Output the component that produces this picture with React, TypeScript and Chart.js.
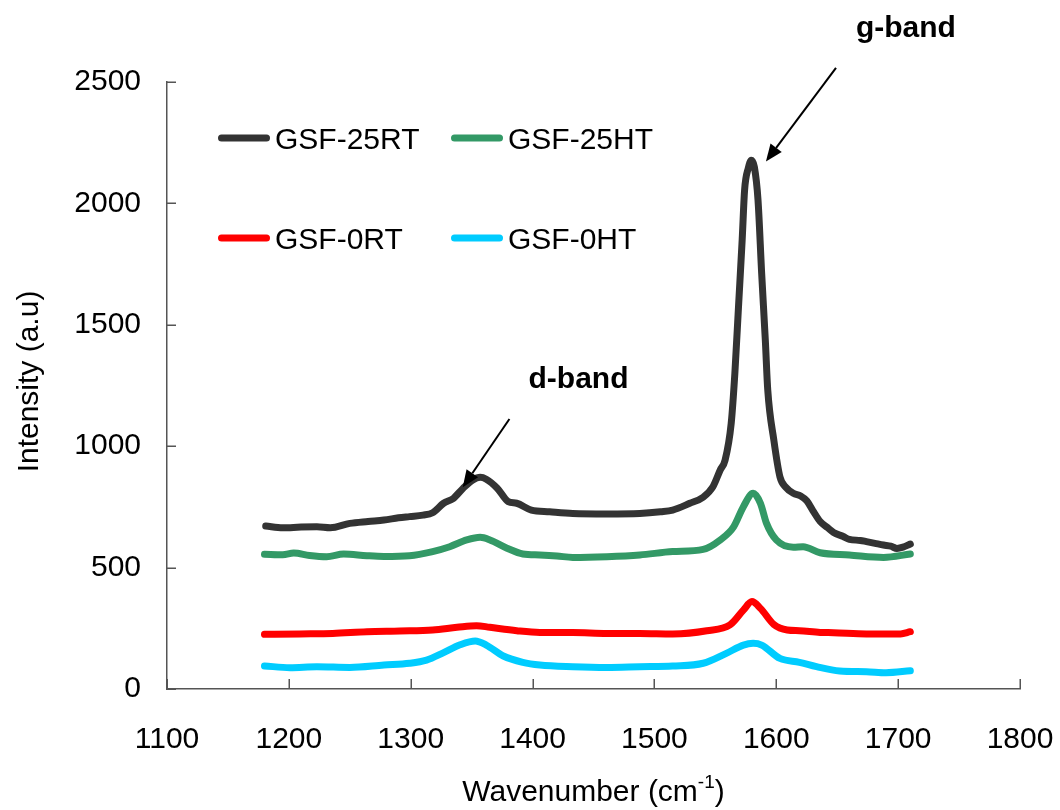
import React, { useEffect, useRef } from "react";
import { Chart, registerables } from "chart.js";

Chart.register(...registerables);

// Axis ticks
const xTickValues = [1100, 1200, 1300, 1400, 1500, 1600, 1700, 1800];
const yTickValues = [0, 500, 1000, 1500, 2000, 2500];

// Series labels and colours
const seriesLabels = ["GSF-25RT", "GSF-25HT", "GSF-0RT", "GSF-0HT"];
const seriesColors = ["#333333", "#339966", "#FF0000", "#00CCFF"];

// GSF-25RT
const rt25X = [1181, 1195, 1210, 1223, 1234, 1250, 1265, 1278, 1290, 1299, 1310, 1318, 1327, 1335, 1343, 1351, 1357, 1362, 1371, 1380, 1387, 1399, 1414, 1433, 1461, 1488, 1505, 1515, 1529, 1540, 1548, 1554, 1558, 1563, 1566, 1569, 1572, 1574, 1577, 1579.5, 1582, 1585, 1588, 1591, 1593, 1598, 1603, 1608, 1614, 1620, 1625, 1630, 1636, 1642, 1647, 1655, 1660, 1669, 1674, 1681, 1688, 1694, 1699, 1704, 1710];
const rt25Y = [671, 664, 667, 668, 664, 682, 690, 696, 705, 710, 716, 726, 765, 785, 827, 861, 872, 864, 827, 772, 765, 737, 730, 723, 721, 723, 730, 737, 765, 790, 833, 902, 943, 1094, 1300, 1575, 1849, 2055, 2145, 2178, 2150, 2014, 1712, 1437, 1231, 1025, 874, 830, 806, 795, 775, 735, 690, 665, 645, 628, 616, 612, 607, 600, 593, 588, 579, 584, 597];

// GSF-25HT
const ht25X = [1180, 1195, 1204, 1217, 1231, 1245, 1264, 1278, 1299, 1318, 1332, 1346, 1357, 1365, 1379, 1392, 1406, 1420, 1433, 1461, 1488, 1515, 1540, 1554, 1565, 1573, 1581, 1587, 1592, 1600, 1614, 1622, 1636, 1660, 1688, 1710];
const ht25Y = [555, 553, 560, 550, 545, 556, 549, 546, 549, 566, 586, 614, 625, 614, 580, 556, 552, 548, 542, 545, 552, 566, 575, 614, 668, 751, 806, 765, 682, 614, 584, 586, 561, 552, 542, 556];

// GSF-0RT
const rt0X = [1180, 1209, 1236, 1264, 1291, 1318, 1338, 1354, 1365, 1387, 1406, 1433, 1461, 1488, 1515, 1543, 1562, 1573, 1580, 1587, 1598, 1609, 1619, 1636, 1647, 1674, 1702, 1710];
const rt0Y = [225, 227, 229, 236, 239, 243, 254, 261, 254, 240, 233, 233, 229, 229, 227, 240, 264, 325, 360, 332, 266, 243, 240, 233, 232, 227, 227, 236];

// GSF-0HT
const ht0X = [1180, 1201, 1223, 1250, 1278, 1299, 1313, 1327, 1340, 1353, 1362, 1376, 1392, 1406, 1433, 1461, 1488, 1515, 1540, 1559, 1573, 1581, 1588, 1603, 1619, 1633, 1652, 1674, 1690, 1710];
const ht0Y = [95, 88, 92, 89, 99, 106, 119, 150, 181, 198, 181, 136, 110, 99, 92, 89, 92, 95, 106, 147, 181, 188, 181, 126, 110, 92, 74, 71, 67, 75];

// Annotations (data coordinates)
const annotationTexts = ["g-band", "d-band"];
const annotationTextPos = [[1706.4, 2685], [1437.7, 1240]];
const annotationArrowFrom = [[1649, 2558], [1381, 1112]];
const annotationArrowTo = [[1591.5, 2173], [1342.7, 831]];

const FONT = "'Liberation Sans', Arial, Helvetica, sans-serif";
const AXIS_COLOR = "#555555";

export default function App() {
  const ref = useRef<HTMLCanvasElement>(null);

  useEffect(() => {
    document.body.style.margin = "0";
    const canvas = ref.current;
    if (!canvas) return;

    const toPts = (xs: number[], ys: number[]) => xs.map((x, i) => ({ x, y: ys[i] }));
    const seriesData = [toPts(rt25X, rt25Y), toPts(ht25X, ht25Y), toPts(rt0X, rt0Y), toPts(ht0X, ht0Y)];

    const decor = {
      id: "decor",
      afterDraw(chart: any) {
        const ctx = chart.ctx as CanvasRenderingContext2D;
        const xs = chart.scales.x;
        const ys = chart.scales.y;
        const area = chart.chartArea;
        ctx.save();

        // inward tick marks
        ctx.strokeStyle = AXIS_COLOR;
        ctx.lineWidth = 1.5;
        ctx.beginPath();
        yTickValues.forEach((v) => {
          const py = Math.round(ys.getPixelForValue(v)) + 0.25;
          ctx.moveTo(area.left, py);
          ctx.lineTo(area.left + 9, py);
        });
        xTickValues.forEach((v) => {
          const px = Math.round(xs.getPixelForValue(v)) + 0.25;
          ctx.moveTo(px, area.bottom);
          ctx.lineTo(px, area.bottom - 10);
        });
        ctx.stroke();

        // axis titles
        ctx.fillStyle = "#000";
        ctx.textBaseline = "alphabetic";
        const mainFont = `30px ${FONT}`;
        const supFont = `19px ${FONT}`;
        const t1 = "Wavenumber (cm";
        const t2 = "-1";
        const t3 = ")";
        ctx.font = mainFont;
        const w1 = ctx.measureText(t1).width;
        const w3 = ctx.measureText(t3).width;
        ctx.font = supFont;
        const w2 = ctx.measureText(t2).width;
        const total = w1 + w2 + w3;
        const cx = (area.left + area.right) / 2;
        const sx = cx - total / 2;
        const by = 801;
        ctx.textAlign = "left";
        ctx.font = mainFont;
        ctx.fillText(t1, sx, by);
        ctx.font = supFont;
        ctx.fillText(t2, sx + w1, by - 13);
        ctx.font = mainFont;
        ctx.fillText(t3, sx + w1 + w2, by);

        // y title
        ctx.save();
        ctx.translate(38, (area.top + area.bottom) / 2 - 4);
        ctx.rotate(-Math.PI / 2);
        ctx.textAlign = "center";
        ctx.font = mainFont;
        ctx.fillText("Intensity (a.u)", 0, 0);
        ctx.restore();

        // legend (2 x 2)
        const legendCols = [218, 451];
        const legendRows = [138, 238];
        seriesLabels.forEach((label, i) => {
          const col = i % 2;
          const row = Math.floor(i / 2);
          const lx = legendCols[col];
          const ly = legendRows[row];
          ctx.strokeStyle = seriesColors[i];
          ctx.lineWidth = 7;
          ctx.lineCap = "round";
          ctx.beginPath();
          ctx.moveTo(lx + 3.5, ly);
          ctx.lineTo(lx + 48.5, ly);
          ctx.stroke();
          ctx.fillStyle = "#000";
          ctx.font = mainFont;
          ctx.textAlign = "left";
          ctx.fillText(label, lx + 57, ly + 11);
        });

        // annotations
        ctx.lineCap = "butt";
        annotationTexts.forEach((txt, i) => {
          const tx = xs.getPixelForValue(annotationTextPos[i][0]);
          const ty = ys.getPixelForValue(annotationTextPos[i][1]);
          ctx.font = `bold 30px ${FONT}`;
          ctx.textAlign = "center";
          ctx.fillStyle = "#000";
          ctx.fillText(txt, tx, ty);

          const x0 = xs.getPixelForValue(annotationArrowFrom[i][0]);
          const y0 = ys.getPixelForValue(annotationArrowFrom[i][1]);
          const x1 = xs.getPixelForValue(annotationArrowTo[i][0]);
          const y1 = ys.getPixelForValue(annotationArrowTo[i][1]);
          const ang = Math.atan2(y1 - y0, x1 - x0);
          const headLen = 17;
          const headHalf = 7;
          const bx = x1 - headLen * Math.cos(ang);
          const byy = y1 - headLen * Math.sin(ang);
          ctx.strokeStyle = "#000";
          ctx.lineWidth = 2;
          ctx.beginPath();
          ctx.moveTo(x0, y0);
          ctx.lineTo(bx, byy);
          ctx.stroke();
          ctx.beginPath();
          ctx.moveTo(x1, y1);
          ctx.lineTo(bx + headHalf * Math.sin(ang), byy - headHalf * Math.cos(ang));
          ctx.lineTo(bx - headHalf * Math.sin(ang), byy + headHalf * Math.cos(ang));
          ctx.closePath();
          ctx.fillStyle = "#000";
          ctx.fill();
        });

        ctx.restore();
      },
    };

    const chart = new Chart(canvas, {
      type: "line",
      data: {
        datasets: seriesLabels.map((label, i) => ({
          label,
          data: seriesData[i],
          borderColor: seriesColors[i],
          backgroundColor: seriesColors[i],
          borderWidth: 7,
          borderCapStyle: "round",
          borderJoinStyle: "round",
          pointRadius: 0,
          pointHoverRadius: 0,
          fill: false,
          cubicInterpolationMode: "monotone",
        })),
      },
      options: {
        responsive: false,
        animation: false,
        events: [],
        layout: { padding: { top: 82, right: 40, left: 0, bottom: 0 } },
        plugins: {
          legend: { display: false },
          tooltip: { enabled: false },
          title: { display: false },
        },
        scales: {
          x: {
            type: "linear",
            min: 1100,
            max: 1800,
            afterBuildTicks: (s: any) => {
              s.ticks = xTickValues.map((v) => ({ value: v }));
            },
            afterFit: (s: any) => {
              s.height = 121;
              s.paddingLeft = 0;
              s.paddingRight = 0;
            },
            grid: { display: false, drawTicks: false },
            border: { display: true, color: AXIS_COLOR, width: 1.5 },
            ticks: {
              color: "#000",
              font: { family: FONT, size: 30 },
              padding: 33,
              maxRotation: 0,
              autoSkip: false,
              callback: (v: any) => String(v),
            },
          },
          y: {
            type: "linear",
            min: 0,
            max: 2500,
            afterBuildTicks: (s: any) => {
              s.ticks = yTickValues.map((v) => ({ value: v }));
            },
            afterFit: (s: any) => {
              s.width = 167;
              s.paddingTop = 0;
              s.paddingBottom = 0;
            },
            grid: { display: false, drawTicks: false },
            border: { display: true, color: AXIS_COLOR, width: 1.5 },
            ticks: {
              color: "#000",
              font: { family: FONT, size: 30 },
              padding: 26,
              autoSkip: false,
              callback: (v: any) => String(v),
            },
          },
        },
      },
      plugins: [decor],
    } as any);

    return () => chart.destroy();
  }, []);

  return <canvas ref={ref} width={1060} height={810} style={{ display: "block" }} />;
}
